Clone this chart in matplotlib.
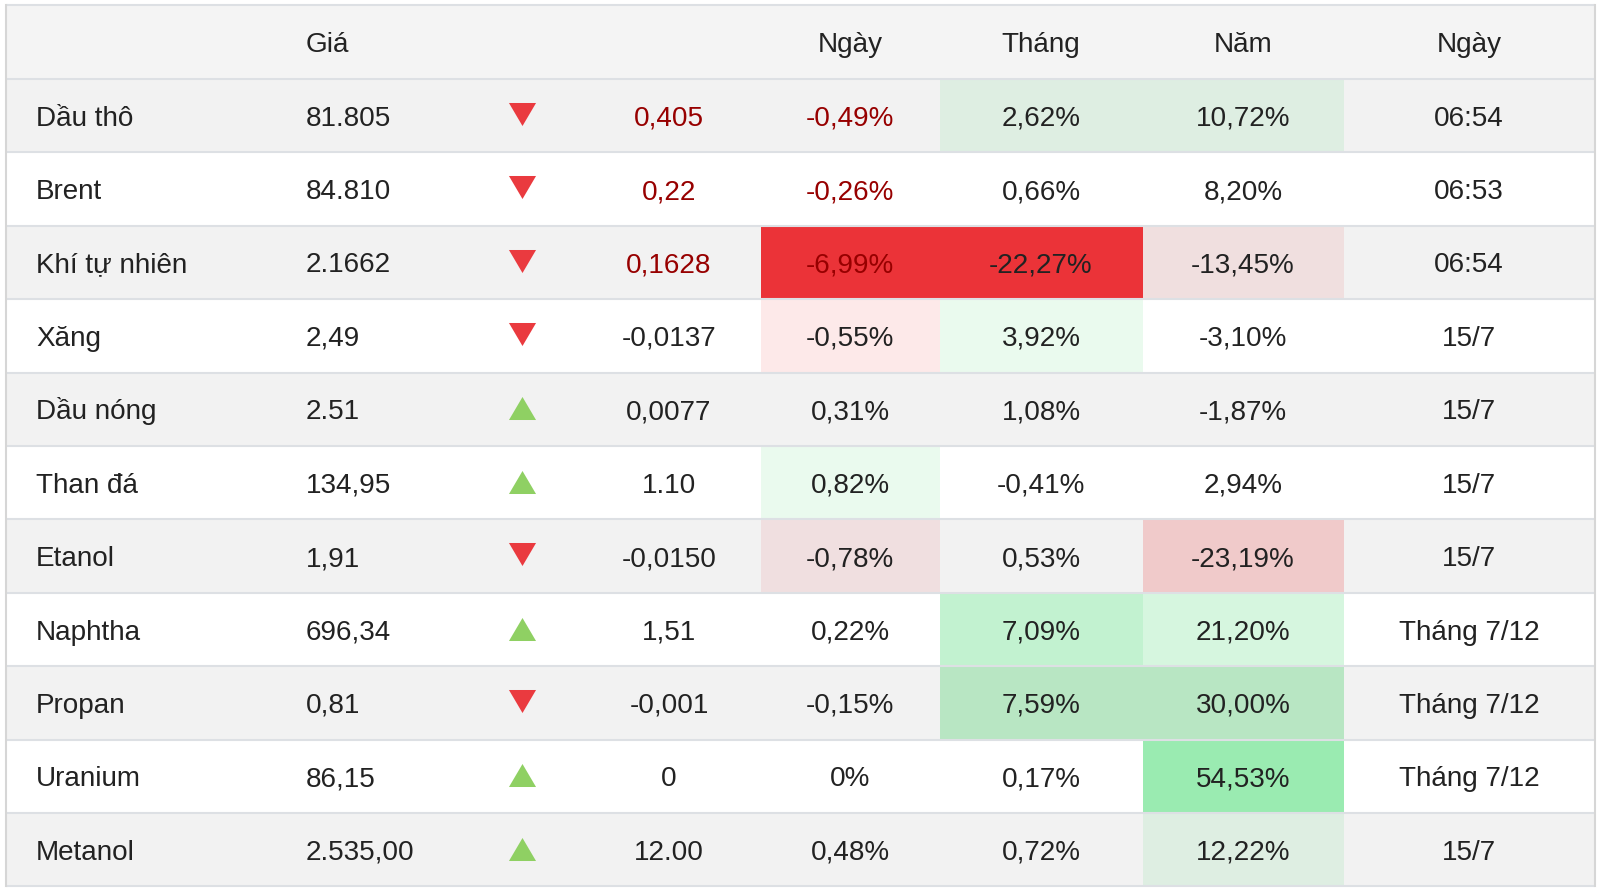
import matplotlib
matplotlib.use("Agg")
import matplotlib.pyplot as plt
from matplotlib.patches import Rectangle

# ---------------- data ----------------
names = ["Dầu thô", "Brent", "Khí tự nhiên", "Xăng", "Dầu nóng", "Than đá",
         "Etanol", "Naphtha", "Propan", "Uranium", "Metanol"]
prices = ["81.805", "84.810", "2.1662", "2,49", "2.51", "134,95",
          "1,91", "696,34", "0,81", "86,15", "2.535,00"]
directions = ["down", "down", "down", "down", "up", "up",
              "down", "up", "down", "up", "up"]
changes = ["0,405", "0,22", "0,1628", "-0,0137", "0,0077", "1.10",
           "-0,0150", "1,51", "-0,001", "0", "12.00"]
day_pct = ["-0,49%", "-0,26%", "-6,99%", "-0,55%", "0,31%", "0,82%",
           "-0,78%", "0,22%", "-0,15%", "0%", "0,48%"]
month_pct = ["2,62%", "0,66%", "-22,27%", "3,92%", "1,08%", "-0,41%",
             "0,53%", "7,09%", "7,59%", "0,17%", "0,72%"]
year_pct = ["10,72%", "8,20%", "-13,45%", "-3,10%", "-1,87%", "2,94%",
            "-23,19%", "21,20%", "30,00%", "54,53%", "12,22%"]
dates = ["06:54", "06:53", "06:54", "15/7", "15/7", "15/7",
         "15/7", "Tháng 7/12", "Tháng 7/12", "Tháng 7/12", "15/7"]
live_rows = [True, True, True, False, False, False,
             False, False, False, False, False]
headers = ["", "Giá", "", "", "Ngày", "Tháng", "Năm", "Ngày"]

# cell highlight colours (row, column-key) -> colour
cell_colors = {
    (0, "m"): "#deeee2", (0, "y"): "#deeee2",
    (2, "d"): "#eb3338", (2, "m"): "#eb3338", (2, "y"): "#f0dfdf",
    (3, "d"): "#fde9e9", (3, "m"): "#eafaee",
    (5, "d"): "#eafaee",
    (6, "d"): "#f0dfe0", (6, "y"): "#f0caca",
    (7, "m"): "#c2f2d0", (7, "y"): "#d6f6df",
    (8, "m"): "#b8e6c3", (8, "y"): "#b8e6c3",
    (9, "y"): "#9aebb1",
    (10, "y"): "#deeee2",
}

# ---------------- layout ----------------
W, H = 1600, 894
fig = plt.figure(figsize=(16, 8.94), dpi=100)
ax = fig.add_axes([0, 0, 1, 1])
ax.set_xlim(0, W)
ax.set_ylim(H, 0)
ax.axis("off")

FONT = "Liberation Sans"
FS = 20.1
TXT = "#222222"
RED_TXT = "#970000"
GRID = "#dde0e4"

left, right = 6, 1595
top, header_bottom = 5, 79
row_h = 73.4
n = len(names)

col_bounds = {"d": (761, 940), "m": (940, 1143), "y": (1143, 1344)}
x_name, x_price, x_arrow, x_change = 36, 306, 522, 669
x_day, x_month, x_year, x_date = 850, 1041, 1243, 1469

# header background
ax.add_patch(Rectangle((left, top), right - left, header_bottom - top,
                       facecolor="#f4f4f4", edgecolor="none", zorder=0))
# row backgrounds
for i in range(n):
    y0 = header_bottom + i * row_h
    bg = "#f2f2f2" if i % 2 == 0 else "#ffffff"
    ax.add_patch(Rectangle((left, y0), right - left, row_h,
                           facecolor=bg, edgecolor="none", zorder=0))
# highlighted cells
for (i, key), c in cell_colors.items():
    x0, x1 = col_bounds[key]
    y0 = header_bottom + i * row_h
    ax.add_patch(Rectangle((x0, y0), x1 - x0, row_h,
                           facecolor=c, edgecolor="none", zorder=1))

# grid lines
ys = [top, header_bottom] + [header_bottom + (i + 1) * row_h for i in range(n)]
for y in ys:
    ax.plot([left, right], [y, y], color=GRID, lw=1.5, zorder=2,
            solid_capstyle="butt")
ax.plot([left, left], [top, ys[-1]], color="#d6d6d6", lw=1.5, zorder=2)
ax.plot([right, right], [top, ys[-1]], color="#d6d6d6", lw=1.5, zorder=2)

BASE = 10  # baseline offset below row centre

def txt(x, y, s, ha="center", color=TXT):
    ax.text(x, y + BASE, s, ha=ha, va="baseline", fontsize=FS,
            family=FONT, color=color, zorder=3)

# header text
hc = (top + header_bottom) / 2
txt(x_price, hc, headers[1], ha="left")
txt(x_day, hc, headers[4])
txt(x_month, hc, headers[5])
txt(x_year, hc, headers[6])
txt(x_date, hc, headers[7])

down_marker = [(-1, 0.85), (1, 0.85), (0, -0.85)]
up_marker = [(-1, -0.85), (1, -0.85), (0, 0.85)]

for i in range(n):
    yc = header_bottom + (i + 0.5) * row_h
    txt(x_name, yc, names[i], ha="left")
    txt(x_price, yc, prices[i], ha="left")
    col = RED_TXT if live_rows[i] else TXT
    txt(x_change, yc, changes[i], color=col)
    txt(x_day, yc, day_pct[i], color=col)
    txt(x_month, yc, month_pct[i])
    txt(x_year, yc, year_pct[i])
    txt(x_date, yc, dates[i])
    if directions[i] == "down":
        ax.scatter([x_arrow], [yc - 2], marker=down_marker, s=380,
                   color="#ea3a3f", linewidths=0, zorder=3)
    else:
        ax.scatter([x_arrow], [yc - 1], marker=up_marker, s=380,
                   color="#8fd063", linewidths=0, zorder=3)

fig.savefig("out.png", dpi=100)
